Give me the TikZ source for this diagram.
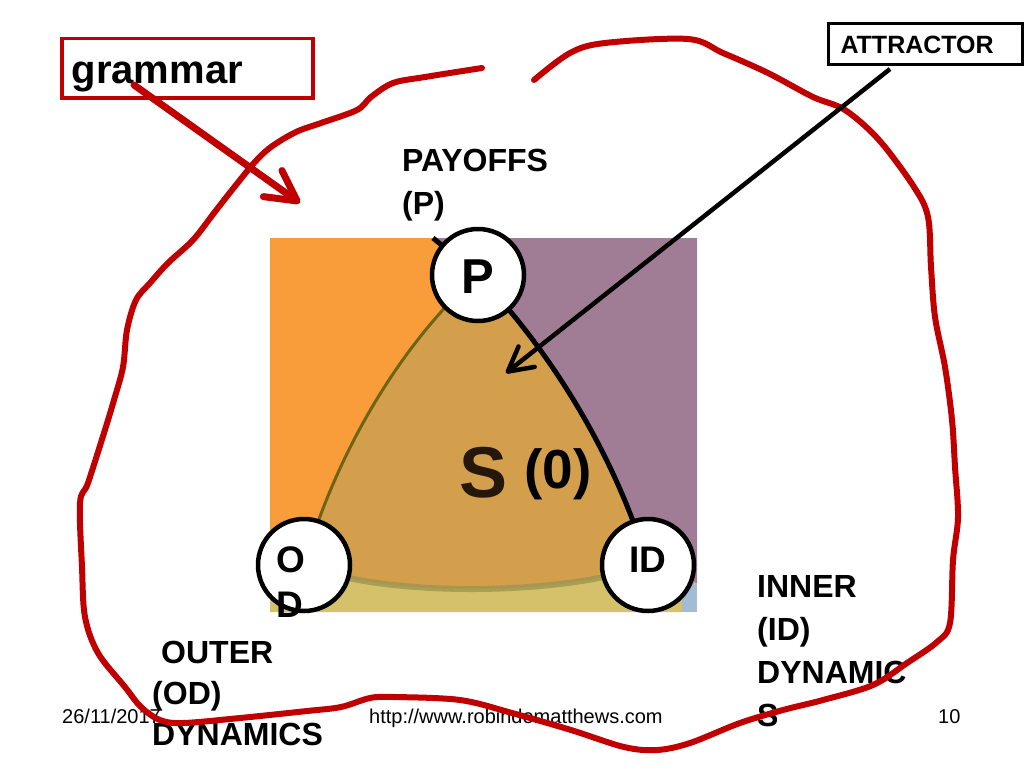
\documentclass[tikz,border=0pt]{standalone}
\usepackage{fontspec}
\setmainfont{Liberation Sans}
\usetikzlibrary{arrows.meta}
\definecolor{redline}{RGB}{192,0,0}
\definecolor{orng}{RGB}{249,157,58}
\definecolor{purp}{RGB}{160,125,149}
\definecolor{tri}{RGB}{211,159,76}
\definecolor{band}{RGB}{212,193,106}
\definecolor{ltblue}{RGB}{163,188,211}
\definecolor{oliveline}{RGB}{110,100,20}
\definecolor{bandline}{RGB}{150,145,80}
\begin{document}
\begin{tikzpicture}[x=1pt,y=-1pt,
  redcurve/.style={draw=redline,line width=6pt,line cap=round,line join=round},
  vertex/.style={circle,draw=black,fill=white,line width=4.5pt,minimum size=92pt,inner sep=0pt},
  lbl/.style={inner sep=0pt,align=left,anchor=north west,font=\fontsize{32}{43}\selectfont\bfseries},
  foot/.style={inner sep=0pt,anchor=base west,font=\fontsize{20}{24}\selectfont},
  tagbox/.style={draw,inner ysep=0pt,align=left,anchor=north west},
]
\useasboundingbox (0,0) rectangle (1024,768);
\fill[white] (0,0) rectangle (1024,768);

% central picture
\fill[orng] (270,238) rectangle (697,612);
\fill[purp] (433,238) -- (697,238) -- (697,583) -- (648,565)
  .. controls (610,440) and (540,340) .. (478,275) -- cycle;
\fill[band] (270,578) -- (304,565) .. controls (380,597) and (560,597) .. (648,565)
  -- (682,583) -- (682,612) -- (270,612) -- cycle;
\fill[ltblue] (682,583) rectangle (697,612);
\fill[tri] (478,275) .. controls (410,335) and (340,440) .. (304,565)
  .. controls (380,597) and (560,597) .. (648,565)
  .. controls (610,440) and (540,340) .. (478,275) -- cycle;
\draw[bandline,line width=6pt,opacity=0.7] (304,565) .. controls (380,597) and (560,597) .. (648,565);
\draw[oliveline,line width=3pt] (478,275) .. controls (410,335) and (340,440) .. (304,565);
\draw[black,line width=5pt] (433,238) -- (478,275) .. controls (540,340) and (610,440) .. (648,565);

\node[inner sep=0pt,anchor=base west,text=black!85!orng,font=\fontsize{72}{74}\selectfont\bfseries] (s) at (459,497) {S};
\node[inner sep=0pt,anchor=base west,font=\fontsize{55}{60}\selectfont\bfseries] (zero) at (524,488) {(0)};

\node[vertex,text height=36pt,text depth=0pt,font=\fontsize{49}{50}\selectfont\bfseries] (P) at (478,275) {P};
\node[vertex] (OD) at (304,565) {};
\node[vertex,text height=26pt,text depth=12pt,font=\fontsize{37}{40}\selectfont\bfseries] (ID) at (648,565) {ID};
\node[lbl,font=\fontsize{37}{45}\selectfont\bfseries] (odtext) at (276,546) {O\\D};

% labels
\node[lbl] (payoffs) at (402,149) {PAYOFFS\\(P)};
\node[lbl] (inner) at (757,575) {INNER\\(ID)\\DYNAMIC\\S};
\node[lbl,font=\fontsize{32}{41}\selectfont\bfseries] (outer) at (152,641) {\hspace*{9pt}OUTER\\(OD)\\DYNAMICS};

% footer
\node[foot] (date) at (62,723) {26/11/2017};
\node[foot] (url) at (369,723) {http://www.robindematthews.com};
\node[foot] (page) at (938,723) {10};

% hand-drawn red loop
\draw[redcurve] plot[smooth,tension=0.55] coordinates {
  (534,80) (570,53) (605,43) (688,39) (723,53) (768,73) (813,97) (845,110)
  (879,140) (914,187) (928,217) (931,267) (935,317) (945,367) (952,420)
  (955,467) (958,517) (953,560) (950,623) (937,642) (907,663) (873,685)
  (823,700) (783,710) (740,723) (690,743) (657,750) (624,747) (571,730)
  (512,713) (460,700) (394,697) (370,698) (341,707) (307,711) (240,718)
  (183,723) (160,720) (141,707) (125,687) (98,653) (85,617) (82,567)
  (80,503) (88,483) (104,433) (114,400) (123,367) (127,330) (136,300)
  (150,283) (168,263) (193,240) (214,213) (232,190) (254,163) (271,147)
  (296,132) (321,123) (357,110) (371,97) (393,83) (425,77) (482,68)};

% grammar box and arrow
\node[tagbox,draw=redline,line width=3.5pt,inner xsep=10pt,text width=231pt,
  text height=45pt,text depth=14pt,font=\fontsize{40}{44}\selectfont\bfseries] (grammar) at (60,37) {grammar};
\coordinate (gstart) at (134,85);
\coordinate (gtip) at (300,203);
\draw[redline,line width=7pt,line cap=round,-{Straight Barb[length=30pt,width=32pt,round]}] (gstart) -- (gtip);

% attractor box and arrow
\node[tagbox,draw=black,fill=white,line width=3pt,inner xsep=12pt,text width=170pt,
  text height=30pt,text depth=11pt,font=\fontsize{25}{28}\selectfont\bfseries] (attr) at (827,22) {ATTRACTOR};
\coordinate (atail) at (890,69);
\coordinate (atip) at (506,373);
\draw[black,line width=4.5pt,-{Straight Barb[length=24pt,width=26pt,round]}] (atail) -- (atip);
\end{tikzpicture}
\end{document}
